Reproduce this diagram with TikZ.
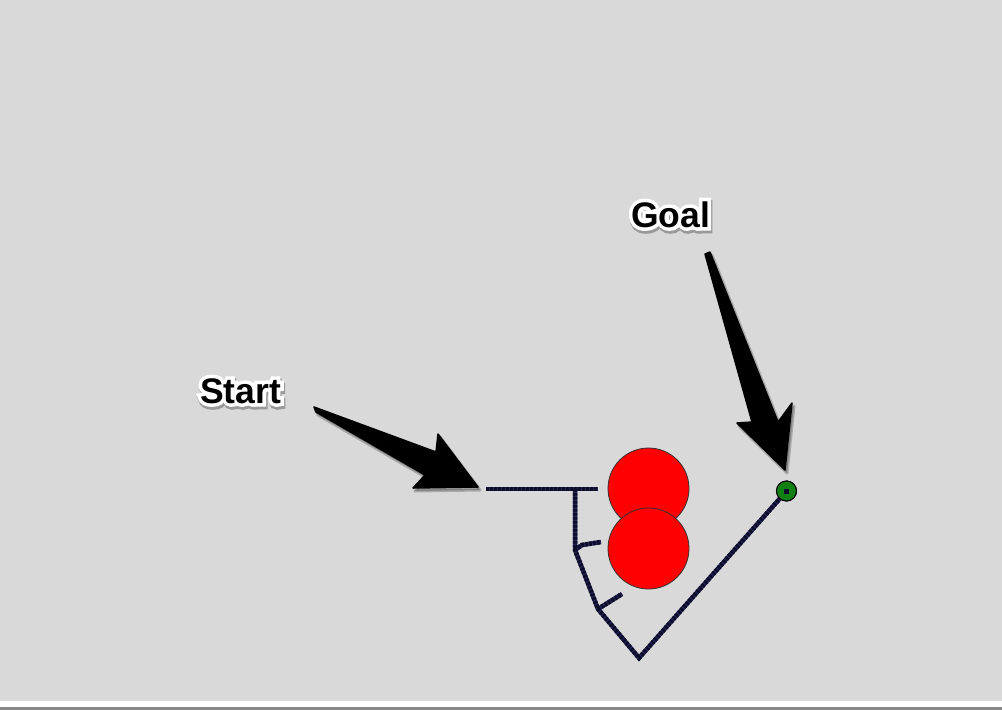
\documentclass[tikz,border=0pt]{standalone}
\usepackage{fontspec}
\usetikzlibrary{calc}
\newfontfamily\labelfont{Liberation Sans}
\newfontfamily\halofont{Liberation Sans Bold}[FakeBold=20]
\newfontfamily\shadefont{Liberation Sans Bold}[FakeBold=22]
\definecolor{bggray}{RGB}{217,217,217}
\definecolor{rulegray}{RGB}{136,136,136}
\definecolor{pathnavy}{RGB}{34,34,84}
\definecolor{pathdark}{RGB}{12,12,40}
\definecolor{obsred}{RGB}{255,0,0}
\definecolor{goalgreen}{RGB}{18,128,18}
\tikzset{
  treeedge/.style={pathnavy, line width=4.5pt},
  treedots/.style={pathdark, line width=4.5pt, dash pattern=on 2.5pt off 1.5pt},
  obstacle/.style={circle, fill=obsred, draw=black!80, line width=0.8pt, minimum size=81pt, inner sep=0pt},
  goalpt/.style={circle, fill=goalgreen, draw=black, line width=1pt, minimum size=20pt, inner sep=0pt},
  bigarrow/.style={fill=black, draw=black, line width=1.5pt, line join=round},
  arrowshadow/.style={fill=black, draw=black, opacity=0.22, line width=3pt, line join=round},
  labeltext/.style={font=\labelfont\bfseries\fontsize{35.5}{38}\selectfont, anchor=base},
  labelhalo/.style={font=\halofont\fontsize{35.5}{38}\selectfont, anchor=base, text=white},
  labelshade/.style={font=\shadefont\fontsize{35.5}{38}\selectfont, anchor=base, text=black!40}
}
\begin{document}
\begin{tikzpicture}[x=1pt, y=-1pt]
\useasboundingbox (0,0) rectangle (1002,710);
% background
\fill[bggray] (0,0) rectangle (1002,701);
\fill[white] (0,701) rectangle (1002,707);
\fill[rulegray] (0,707) rectangle (1002,710);
% obstacles
\node[obstacle] (obsA) at (648.5,488.5) {};
\node[obstacle] (obsB) at (648.5,548.5) {};
% tree nodes
\coordinate (s0) at (486,489);
\coordinate (s1) at (575,489);
\coordinate (s2) at (598,489);
\coordinate (s3) at (575,550);
\coordinate (s4) at (582,545);
\coordinate (s5) at (601,542);
\coordinate (s6) at (598,609);
\coordinate (s7) at (622,594);
\coordinate (s8) at (639,658);
\node[goalpt] (goal) at (786.5,491) {};
% tree edges
\foreach \style in {treeedge, treedots} {
  \draw[\style] (s0) -- (s1) -- (s2);
  \draw[\style] (s1) -- (s3) -- (s6) -- (s8) -- (goal.center);
  \draw[\style] (s3) -- (s4) -- (s5);
  \draw[\style] (s6) -- (s7);
}
\node[goalpt] at (goal) {};
\fill[pathdark] ($(goal.center)+(-2.5,-2.5)$) rectangle ($(goal.center)+(2.5,2.5)$);
% labels
\node[labelshade, xshift=1pt, yshift=-2.5pt] at (240.5,403) {Start};
\node[labelhalo] at (240.5,403) {Start};
\node[labeltext] (startlbl) at (240.5,403) {Start};
\node[labelshade, xshift=1pt, yshift=-2.5pt] at (670.5,227) {Goal};
\node[labelhalo] at (670.5,227) {Goal};
\node[labeltext] (goallbl) at (670.5,227) {Goal};
% arrows
\coordinate (ta) at (478,487);
\coordinate (tb) at (785,470);
\begin{scope}[shift={(2,3)}]
\draw[arrowshadow] (314,407) -- (436,452) -- (438,434) -- (478,487) -- (413,488) -- (425,475) -- (316,412) -- cycle;
\draw[arrowshadow] (705,254) -- (752,422) -- (737,423) -- (785,470) -- (792,403) -- (778,422) -- (710,252) -- cycle;
\end{scope}
\draw[bigarrow] (314,407) -- (436,452) -- (438,434) -- (ta) -- (413,488) -- (425,475) -- (316,412) -- cycle;
\draw[bigarrow] (705,254) -- (752,422) -- (737,423) -- (tb) -- (792,403) -- (778,422) -- (710,252) -- cycle;
\end{tikzpicture}
\end{document}
